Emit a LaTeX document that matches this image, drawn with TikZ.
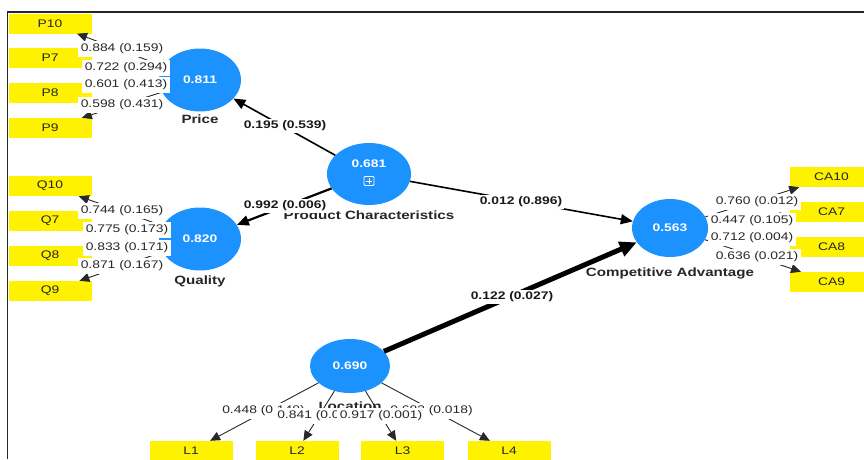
\documentclass[tikz,border=0pt]{standalone}
\usepackage{fontspec}
\setmainfont{Liberation Sans}[FakeStretch=1.26]
\usepackage{xcolor}
\usepackage{tikz}
\usetikzlibrary{arrows.meta}
\usetikzlibrary{positioning}
\usetikzlibrary{shapes}

\definecolor{plsblue}{RGB}{28,146,255}
\definecolor{ldgray}{RGB}{40,40,40}

\begin{document}
\begin{tikzpicture}[x=1pt, y=-1pt, ->, >={Triangle[length=10pt, width=9pt]},
	lv/.style={ellipse, fill=plsblue, text=white, inner sep=0pt,
				font=\fontsize{11}{13}\selectfont\bfseries,
				minimum width=82pt, minimum height=63pt},
	lvval/.style={text=white, inner sep=0pt, font=\fontsize{11}{13}\selectfont\bfseries},
	expand/.style={-, draw=white, line width=0.8pt, rounded corners=1pt, inner sep=0pt,
				minimum width=10pt, minimum height=9pt,
				path picture={\draw [-, white, line width=0.8pt]
					([xshift=-3pt]path picture bounding box.center) -- ([xshift=3pt]path picture bounding box.center)
					([yshift=-3pt]path picture bounding box.center) -- ([yshift=3pt]path picture bounding box.center);}},
	mv/.style={rectangle, fill=yellow, text=black!85, inner sep=0pt,
				font=\fontsize{11}{13}\selectfont, minimum width=83pt, minimum height=20pt},
	lvname/.style={text=black!85, inner sep=0pt, text height=9pt, text depth=2.5pt,
				font=\fontsize{12}{14}\selectfont\bfseries},
	load/.style={fill=white, text=ldgray, inner sep=3pt, font=\fontsize{11}{13}\selectfont},
	coef/.style={fill=white, text=black!90, inner sep=1.5pt, font=\fontsize{11}{13}\selectfont\bfseries},
	ldline/.style={draw=ldgray, line width=0.9pt},
	pathline/.style={draw=black, line width=1.6pt, >={Triangle[length=12pt, width=10pt]}},
]
\useasboundingbox (0,0) rectangle (864,459);
\draw [-, line width=1.7pt, black!85] (7.5,459) -- (7.5,11.8) -- (864,11.8);
%
\node [lv] (Pr) at (200,80) {0.811};
\node [lv] (Qu) at (200,239) {0.820};
\node [lv, minimum width=84pt, minimum height=62pt] (PC) at (369,174) {};
\node [lvval] (PCv) at (369,164) {0.681};
\node [expand] (PCx) at (369,181) {};
\node [lv, minimum width=76pt, minimum height=58pt] (CA) at (670,228) {0.563};
\node [lv, minimum width=80pt, minimum height=54pt] (Lo) at (350,366) {0.690};
%
\node [mv] (P10) at (50,23.5) {P10};
\node [mv] (P7) at (50,58) {P7};
\node [mv] (P8) at (50,93) {P8};
\node [mv] (P9) at (50,128) {P9};
\node [mv] (Q10) at (50,186) {Q10};
\node [mv] (Q7) at (50,221) {Q7};
\node [mv] (Q8) at (50,256) {Q8};
\node [mv] (Q9) at (50,291) {Q9};
\node [mv] (CA10) at (831.5,177) {CA10};
\node [mv] (CA7) at (831.5,211.5) {CA7};
\node [mv] (CA8) at (831.5,246.5) {CA8};
\node [mv] (CA9) at (831.5,282) {CA9};
\node [mv] (L1) at (191,451) {L1};
\node [mv] (L2) at (297,451) {L2};
\node [mv] (L3) at (402.5,451) {L3};
\node [mv] (L4) at (509,451) {L4};
%
\draw [ldline] (Pr) -- (P10);
\draw [ldline] (Pr) -- (P7);
\draw [ldline] (Pr) -- (P8);
\draw [ldline] (Pr) -- (P9);
\draw [ldline] (Qu) -- (Q10);
\draw [ldline] (Qu) -- (Q7);
\draw [ldline] (Qu) -- (Q8);
\draw [ldline] (Qu) -- (Q9);
\draw [ldline] (CA) -- (CA10);
\draw [ldline] (CA) -- (CA7);
\draw [ldline] (CA) -- (CA8);
\draw [ldline] (CA) -- (CA9);
\draw [ldline] (Lo) -- (L1);
\draw [ldline] (Lo) -- (L2);
\draw [ldline] (Lo) -- (L3);
\draw [ldline] (Lo) -- (L4);
%
\draw [pathline] (PC) -- (Pr);
\draw [pathline, line width=2.2pt] (PC) -- (Qu);
\draw [pathline] (PC) -- (CA);
\draw [pathline, line width=5pt, -{Triangle[length=17pt, width=15pt]}] (Lo) -- (CA);
%
\node [lvname, below=3pt of Pr] (Prn) {Price};
\node [lvname, below=5pt of Qu] (Qun) {Quality};
\node [lvname, below=5pt of PC] (PCn) {Product Characteristics};
\node [lvname, below=10pt of CA] (CAn) {Competitive Advantage};
\node [lvname, below=8pt of Lo] (Lon) {Location};
%
\node [load] (lP10) at (122,49) {0.884 (0.159)};
\node [load] (lP7) at (126,68) {0.722 (0.294)};
\node [load] (lP8) at (126,85) {0.601 (0.413)};
\node [load] (lP9) at (122,105) {0.598 (0.431)};
\node [load] (lQ10) at (122,211) {0.744 (0.165)};
\node [load] (lQ7) at (127,230) {0.775 (0.173)};
\node [load] (lQ8) at (127,248) {0.833 (0.171)};
\node [load] (lQ9) at (122,266) {0.871 (0.167)};
\node [load] (lCA10) at (757,202) {0.760 (0.012)};
\node [load] (lCA7) at (752,221) {0.447 (0.105)};
\node [load] (lCA8) at (752,238) {0.712 (0.004)};
\node [load] (lCA9) at (757,257) {0.636 (0.021)};
\node [load] (lL1) at (263.5,411) {0.448 (0.148)};
\node [load] (lL4) at (431.5,411) {0.683 (0.018)};
\node [load] (lL2) at (318.5,416) {0.841 (0.000)};
\node [load] (lL3) at (381,416) {0.917 (0.001)};
%
\node [coef] (cPr) at (285,126) {0.195 (0.539)};
\node [coef] (cQu) at (285,206) {0.992 (0.006)};
\node [coef] (cCA) at (521,202) {0.012 (0.896)};
\node [coef] (cLo) at (512,297) {0.122 (0.027)};
\end{tikzpicture}
\end{document}
